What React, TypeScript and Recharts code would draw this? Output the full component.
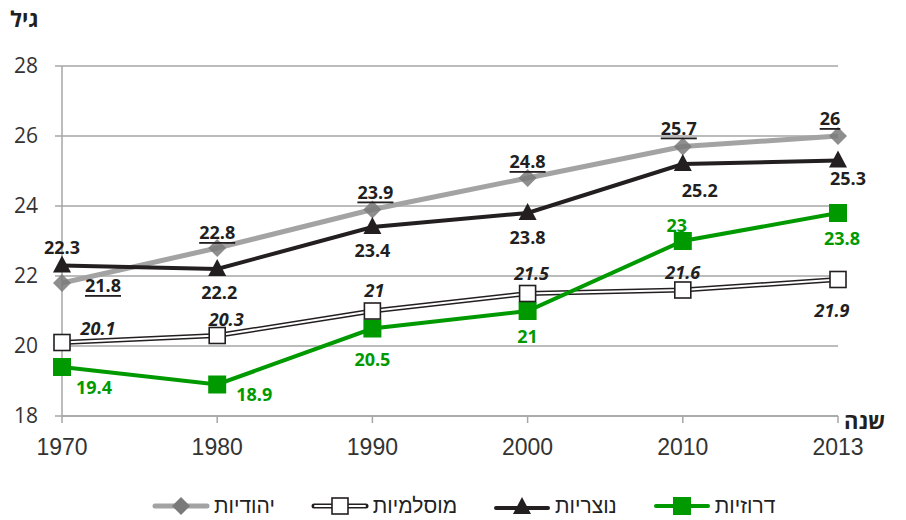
import React from "react";
import { CartesianGrid, Line, LineChart, XAxis, YAxis } from "recharts";

const years = ["1970", "1980", "1990", "2000", "2010", "2013"];
const jewish = [21.8, 22.8, 23.9, 24.8, 25.7, 26];
const muslim = [20.1, 20.3, 21, 21.5, 21.6, 21.9];
const christian = [22.3, 22.2, 23.4, 23.8, 25.2, 25.3];
const druze = [19.4, 18.9, 20.5, 21, 23, 23.8];
const yTicks = [18, 20, 22, 24, 26, 28];

// label offsets relative to each point (dx, dy)
const jewishLbl = [[41, 2], [0, -16], [3, -18], [0, -17], [-4, -19], [-8, -18]];
const christianLbl = [[0, -19], [2, 23], [0, 23], [0, 24], [17, 26], [10, 17]];
const muslimLbl = [[36, -15], [9, -17], [2, -21], [4, -21], [0, -18], [-6, 30]];
const druzeLbl = [[32, 20], [37, 9], [0, 30], [0, 25], [-6, -16], [4, 25]];

const data = years.map((y, i) => ({
  year: y,
  jewish: jewish[i],
  muslim: muslim[i],
  christian: christian[i],
  druze: druze[i],
}));

const DARK = "#231f20";
const GREEN = "#009a00";
const GRAY = "#a3a3a3";
const FONT = "'Open Sans', sans-serif";

const makeLabel =
  (offs: number[][], color: string, extra: React.CSSProperties = {}) =>
  (p: any) => {
    const [dx, dy] = offs[p.index] || [0, 0];
    return (
      <text
        key={`l-${p.index}`}
        x={p.x + dx}
        y={p.y + dy}
        textAnchor="middle"
        dominantBaseline="central"
        fill={color}
        fontFamily={FONT}
        fontWeight={700}
        fontSize={18}
        style={extra}
      >
        {p.value}
      </text>
    );
  };

const Diamond = (p: any) => (
  <polygon
    key={`d-${p.index}`}
    points={`${p.cx - 9},${p.cy} ${p.cx},${p.cy - 9} ${p.cx + 9},${p.cy} ${p.cx},${p.cy + 9}`}
    fill="#7a7a7a"
    fillOpacity={0.85}
  />
);
const Triangle = (p: any) => (
  <polygon
    key={`t-${p.index}`}
    points={`${p.cx - 9},${p.cy + 7} ${p.cx},${p.cy - 10} ${p.cx + 9},${p.cy + 7}`}
    fill={DARK}
  />
);
const WhiteSq = (p: any) => (
  <rect key={`w-${p.index}`} x={p.cx - 8} y={p.cy - 8} width={16} height={16} fill="#fff" stroke={DARK} strokeWidth={1.6} />
);
const GreenSq = (p: any) => (
  <rect key={`g-${p.index}`} x={p.cx - 9} y={p.cy - 9} width={18} height={18} fill={GREEN} />
);

const legendItems = [
  { name: "יהודיות", kind: "jewish" },
  { name: "מוסלמיות", kind: "muslim" },
  { name: "נוצריות", kind: "christian" },
  { name: "דרוזיות", kind: "druze" },
];

function LegendIcon({ kind }: { kind: string }) {
  return (
    <svg width={58} height={20}>
      {kind === "jewish" && (
        <>
          <line x1={3} y1={10} x2={55} y2={10} stroke={GRAY} strokeWidth={5} strokeLinecap="round" />
          <polygon points="20,10 29,1 38,10 29,19" fill="#7a7a7a" />
        </>
      )}
      {kind === "muslim" && (
        <>
          <line x1={3} y1={10} x2={55} y2={10} stroke={DARK} strokeWidth={5} strokeLinecap="round" />
          <line x1={4} y1={10} x2={54} y2={10} stroke="#fff" strokeWidth={2} strokeLinecap="round" />
          <rect x={21} y={2} width={16} height={16} fill="#fff" stroke={DARK} strokeWidth={1.6} />
        </>
      )}
      {kind === "christian" && (
        <>
          <line x1={3} y1={12} x2={55} y2={12} stroke={DARK} strokeWidth={4} strokeLinecap="round" />
          <polygon points="20,18 29,1 38,18" fill={DARK} />
        </>
      )}
      {kind === "druze" && (
        <>
          <line x1={3} y1={10} x2={55} y2={10} stroke={GREEN} strokeWidth={4} strokeLinecap="round" />
          <rect x={20} y={1} width={18} height={18} fill={GREEN} />
        </>
      )}
    </svg>
  );
}

export default function App() {
  return (
    <div style={{ position: "absolute", left: 0, top: 0, width: 906, height: 520, background: "#fff" }}>
      <LineChart
        width={906}
        height={520}
        data={data}
        margin={{ top: 66, right: 68, bottom: 74, left: 0 }}
      >
        <CartesianGrid horizontal vertical={false} stroke="#a6a6a6" strokeWidth={1.5} />
        <XAxis
          dataKey="year"
          interval={0}
          stroke="#a6a6a6"
          strokeWidth={1.5}
          tickSize={7}
          tickMargin={16}
          height={30}
          tick={{ fill: "#333", fontSize: 23, fontFamily: "'Liberation Sans', Arial, sans-serif" }}
        />
        <YAxis
          domain={[18, 28]}
          ticks={yTicks}
          width={62}
          stroke="#a6a6a6"
          strokeWidth={1.5}
          tickSize={7}
          tickMargin={17}
          tick={{ fill: "#333", fontSize: 21, fontFamily: FONT }}
        />
        <Line
          dataKey="jewish"
          stroke={GRAY}
          strokeWidth={5}
          dot={Diamond}
          activeDot={false}
          label={makeLabel(jewishLbl, DARK, { textDecoration: "underline" })}
          isAnimationActive={false}
        />
        <Line
          dataKey="christian"
          stroke={DARK}
          strokeWidth={4}
          dot={Triangle}
          activeDot={false}
          label={makeLabel(christianLbl, DARK)}
          isAnimationActive={false}
        />
        <Line
          dataKey="muslim"
          stroke={DARK}
          strokeWidth={5}
          dot={false}
          activeDot={false}
          isAnimationActive={false}
        />
        <Line
          dataKey="muslim"
          stroke="#fff"
          strokeWidth={2}
          dot={false}
          activeDot={false}
          isAnimationActive={false}
        />
        <Line
          dataKey="druze"
          stroke={GREEN}
          strokeWidth={4}
          dot={GreenSq}
          activeDot={false}
          label={makeLabel(druzeLbl, GREEN)}
          isAnimationActive={false}
        />
        <Line
          dataKey="muslim"
          stroke="none"
          dot={WhiteSq}
          activeDot={false}
          label={makeLabel(muslimLbl, DARK, { fontStyle: "italic" })}
          isAnimationActive={false}
        />
      </LineChart>
      <div
        style={{
          position: "absolute",
          left: 10,
          top: 3,
          fontFamily: FONT,
          fontWeight: 700,
          fontSize: 22,
          color: DARK,
          direction: "rtl",
        }}
      >
        גיל
      </div>
      <div
        style={{
          position: "absolute",
          left: 844,
          top: 405,
          fontFamily: FONT,
          fontWeight: 700,
          fontSize: 22,
          color: DARK,
          direction: "rtl",
        }}
      >
        שנה
      </div>
      <div
        style={{
          position: "absolute",
          left: 152,
          top: 494,
          display: "flex",
          alignItems: "center",
          gap: 36,
          fontFamily: "'Liberation Sans', Arial, sans-serif",
          fontSize: 21,
          color: "#222",
        }}
      >
        {legendItems.map((it) => (
          <div key={it.kind} style={{ display: "flex", alignItems: "center", gap: 4 }}>
            <LegendIcon kind={it.kind} />
            <span style={{ direction: "rtl" }}>{it.name}</span>
          </div>
        ))}
      </div>
    </div>
  );
}
